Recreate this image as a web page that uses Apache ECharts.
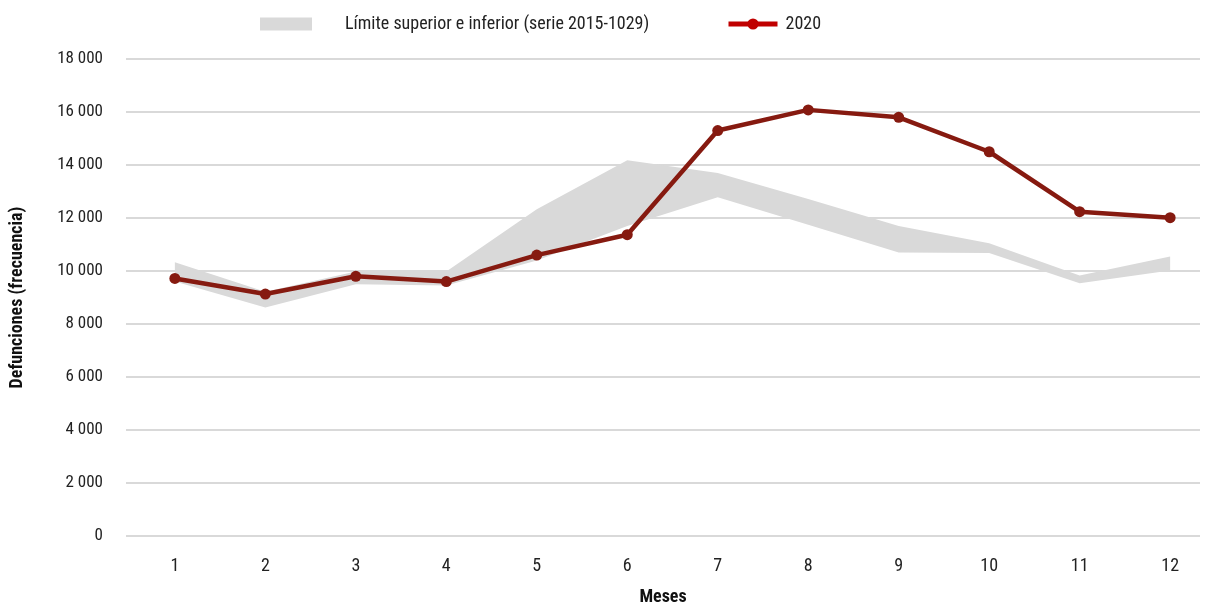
<!DOCTYPE html>
<html><head><meta charset="utf-8">
<script src="https://cdn.jsdelivr.net/npm/echarts@6/dist/echarts.min.js"></script>
<style>html,body{margin:0;padding:0;background:#fff}#c{width:1209px;height:611px}</style>
</head><body><div id="c"></div>
<script>
const months = [1,2,3,4,5,6,7,8,9,10,11,12];
const lowerBound = [9600, 8620, 9500, 9450, 10400, 11700, 12780, 11750, 10700, 10680, 9540, 10020];
const upperBound = [10330, 9220, 9980, 9980, 12330, 14180, 13700, 12720, 11700, 11050, 9830, 10550];
const deaths2020 = [9720, 9130, 9800, 9600, 10600, 11370, 15300, 16080, 15800, 14500, 12240, 12010];
const yTicks = [0,2000,4000,6000,8000,10000,12000,14000,16000,18000];
const bandName = 'Límite superior e inferior (serie 2015-1029)';
const lineName = '2020';

const font = '"Liberation Sans Narrow", "Roboto Condensed", sans-serif';
const chart = echarts.init(document.getElementById('c'));
const pair = a => a.map((v,i)=>[months[i], v]);
const bandData = months.map((m,i)=>[m, lowerBound[i], upperBound[i]]);

chart.setOption({
  animation:false,
  textStyle:{fontFamily:font},
  legend:[{
    data:[{name:bandName, icon:'rect', itemStyle:{color:'#d9d9d9'}}],
    left:255, top:10, itemWidth:52, itemHeight:13,
    textStyle:{fontFamily:font, fontSize:18, color:'#222', padding:[0,0,0,28]}
  },{
    data:[{name:lineName, itemStyle:{color:'#c00000'}, lineStyle:{color:'#c00000', width:5}}],
    left:721, top:10, itemWidth:49, itemHeight:14,
    textStyle:{fontFamily:font, fontSize:18, color:'#222', padding:[0,0,0,3]}
  }],
  grid:{left:125, right:9, top:59, bottom:73},
  xAxis:{
    type:'value', min:0.46, max:12.33,
    name:'Meses', nameLocation:'middle', nameGap:52,
    nameTextStyle:{fontFamily:font, fontSize:18, fontWeight:'bold', color:'#111'},
    axisLine:{show:false}, axisTick:{show:false}, splitLine:{show:false},
    axisLabel:{customValues:months, fontFamily:font, fontSize:18, color:'#222', margin:21}
  },
  yAxis:{
    type:'value', min:0, max:18000, interval:2000,
    name:'Defunciones (frecuencia)', nameLocation:'middle', nameGap:100,
    nameTextStyle:{fontFamily:font, fontSize:18, fontWeight:'bold', color:'#111'},
    axisLine:{show:false}, axisTick:{show:false},
    splitLine:{lineStyle:{color:'#d9d9d9', width:2}},
    axisLabel:{fontFamily:font, fontSize:17, color:'#222', margin:23,
      formatter:v=>String(v).replace(/\B(?=(\d{3})+(?!\d))/g,' ')}
  },
  series:[{
    name:bandName, type:'custom', data:bandData,
    itemStyle:{color:'#d9d9d9'},
    encode:{x:0, y:[1,2]},
    renderItem:(params, api)=>{
      if (params.dataIndex !== 0) return null;
      const top = bandData.map(d=>api.coord([d[0], d[2]]));
      const bot = bandData.slice().reverse().map(d=>api.coord([d[0], d[1]]));
      return {type:'polygon', shape:{points:top.concat(bot)}, style:{fill:'#d9d9d9'}};
    },
    z:2
  },{
    name:lineName, type:'line', data:pair(deaths2020),
    symbol:'circle', symbolSize:11, showAllSymbol:true,
    itemStyle:{color:'#861a10'}, lineStyle:{color:'#861a10', width:4.5}, z:5
  }]
});
</script></body></html>
